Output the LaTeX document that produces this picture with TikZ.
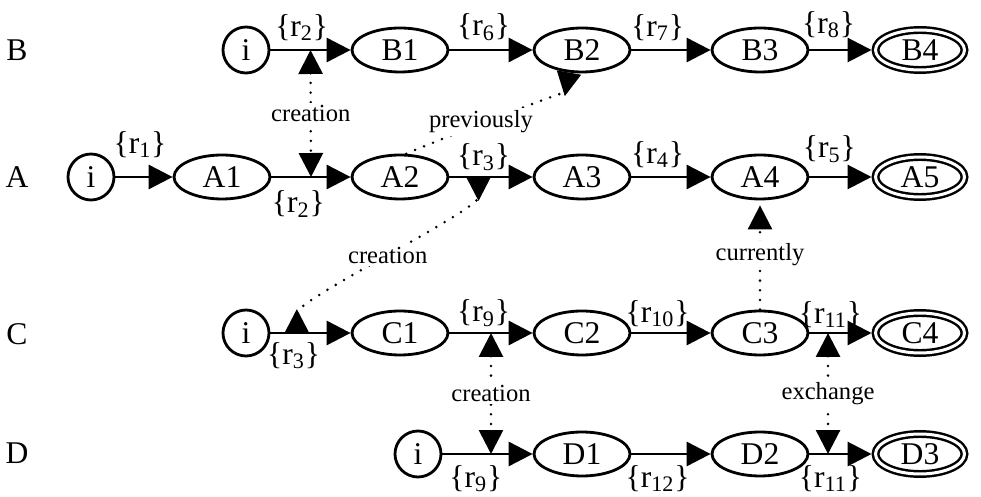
\documentclass[tikz,border=0pt]{standalone}
\usepackage{fontspec}
\setmainfont{Liberation Serif}
\usetikzlibrary{arrows.meta, calc, shapes.geometric, positioning}

\begin{document}
\begin{tikzpicture}[x=0.02cm, y=0.02cm,
    >={Triangle[length=0.48cm, width=0.48cm]},
    stnode/.style={ellipse, draw, line width=1.6pt, inner sep=0pt,
                   minimum width=1.92cm, minimum height=0.88cm,
                   font=\fontsize{18}{20}\selectfont},
    ininode/.style={circle, draw, line width=1.6pt, inner sep=0pt,
                    minimum size=0.92cm, font=\fontsize{18}{20}\selectfont},
    finnode/.style={stnode, line width=1.4pt, double, double distance=0.06cm,
                    minimum width=1.78cm, minimum height=0.8cm, outer sep=0.08cm},
    rowlab/.style={inner sep=0pt, font=\fontsize{18}{20}\selectfont},
    trans/.style={line width=1.7pt, ->},
    elab/.style={inner sep=0pt, font=\fontsize{18}{20}\selectfont},
    note/.style={fill=white, inner sep=1.5pt, font=\fontsize{14}{16}\selectfont},
    dotlink/.style={line width=1.6pt, line cap=round, dash pattern=on 0pt off 5.5pt},
    invtip/.style={dotlink, {Triangle[length=0.48cm, width=0.48cm, reversed]}-{Triangle[length=0.48cm, width=0.48cm, reversed]}},
]
    \useasboundingbox (0,0) rectangle (981,497);

    % Row labels
    \node[rowlab] (rB) at (17,447) {B};
    \node[rowlab] (rA) at (17,320) {A};
    \node[rowlab] (rC) at (17,163) {C};
    \node[rowlab] (rD) at (17,44)  {D};

    % Row B
    \node[ininode] (Bi) at (246,447) {i};
    \node[stnode]  (B1) at (400,447) {B1};
    \node[stnode]  (B2) at (582,447) {B2};
    \node[stnode]  (B3) at (760,447) {B3};
    \node[finnode] (B4) at (920,447) {B4};

    % Row A
    \node[ininode] (Ai) at (91,320)  {i};
    \node[stnode]  (A1) at (222,320) {A1};
    \node[stnode]  (A2) at (400,320) {A2};
    \node[stnode]  (A3) at (582,320) {A3};
    \node[stnode]  (A4) at (760,320) {A4};
    \node[finnode] (A5) at (920,320) {A5};

    % Row C
    \node[ininode] (Ci) at (246,164) {i};
    \node[stnode]  (C1) at (400,164) {C1};
    \node[stnode]  (C2) at (582,164) {C2};
    \node[stnode]  (C3) at (760,164) {C3};
    \node[finnode] (C4) at (920,164) {C4};

    % Row D
    \node[ininode] (Di) at (418,43) {i};
    \node[stnode]  (D1) at (582,43) {D1};
    \node[stnode]  (D2) at (760,43) {D2};
    \node[finnode] (D3) at (920,43) {D3};

    % Transitions
    \draw[trans] (Bi) -- node[elab, above=4.5pt, pos=.39] {\{r\textsubscript{2}\}} (B1);
    \draw[trans] (B1) -- node[elab, above=4.5pt, pos=.41] {\{r\textsubscript{6}\}} (B2);
    \draw[trans] (B2) -- node[elab, above=4.5pt, pos=.33] {\{r\textsubscript{7}\}} (B3);
    \draw[trans] (B3) -- node[elab, above=6pt, pos=.31]   {\{r\textsubscript{8}\}} (B4);

    \draw[trans] (Ai) -- node[elab, above=10pt, pos=.43]  {\{r\textsubscript{1}\}} (A1);
    \draw[trans] (A1) -- node[elab, below=7pt, pos=.34]   {\{r\textsubscript{2}\}} (A2);
    \draw[trans] (A2) -- node[elab, above=3pt, pos=.41]   {\{r\textsubscript{3}\}} (A3);
    \draw[trans] (A3) -- node[elab, above=4.5pt, pos=.33] {\{r\textsubscript{4}\}} (A4);
    \draw[trans] (A4) -- node[elab, above=7.5pt, pos=.32] {\{r\textsubscript{5}\}} (A5);

    \draw[trans] (Ci) -- node[elab, below=4.5pt, pos=.29] {\{r\textsubscript{3}\}} (C1);
    \draw[trans] (C1) -- node[elab, above=3pt, pos=.41]   {\{r\textsubscript{9}\}} (C2);
    \draw[trans] (C2) -- node[elab, above=2.5pt, pos=.33] {\{r\textsubscript{10}\}} (C3);
    \draw[trans] (C3) -- node[elab, above=2pt, pos=.34]   {\{r\textsubscript{11}\}} (C4);

    \draw[trans] (Di) -- node[elab, below=5.5pt, pos=.37] {\{r\textsubscript{9}\}} (D1);
    \draw[trans] (D1) -- node[elab, below=5.5pt, pos=.33] {\{r\textsubscript{12}\}} (D2);
    \draw[trans] (D2) -- node[elab, below=5.5pt, pos=.34] {\{r\textsubscript{11}\}} (D3);

    % Points on the transitions
    \coordinate (pB1) at ($(Bi.east)!0.5!(B1.west)$);
    \coordinate (pA1) at ($(A1.east)!0.5!(A2.west)$);
    \coordinate (pA2) at ($(A2.east)!0.35!(A3.west)$);
    \coordinate (pC0) at ($(Ci.east)!0.33!(C1.west)$);
    \coordinate (pC1) at ($(C1.east)!0.5!(C2.west)$);
    \coordinate (pD0) at (pC1 |- Di);
    \coordinate (pC3) at ($(C3.east)!0.3!(C4.west)$);
    \coordinate (pD2) at (pC3 |- D2);

    % Relations between the runs
    \draw[dotlink, <->] (pB1) -- node[note] (creBA) {creation} (pA1);
    \draw[dotlink, -{Triangle[length=0.48cm, width=0.48cm, reversed]}]
        (A2.75) to[out=25, in=-100, looseness=.25]
        node[note, pos=.45] (prev) {previously} (B2.-120);
    \draw[invtip] (pC0) to[out=90, in=-90, looseness=.35]
        node[note] (creAC) {creation} (pA2);
    \draw[dotlink, ->, shorten >=0.1cm] (C3) -- node[note] (curr) {currently} (A4);
    \draw[dotlink, <->] (pC1) -- node[note] (creCD) {creation} (pD0);
    \draw[dotlink, <->] (pC3) -- node[note] (exch) {exchange} (pD2);
\end{tikzpicture}
\end{document}
